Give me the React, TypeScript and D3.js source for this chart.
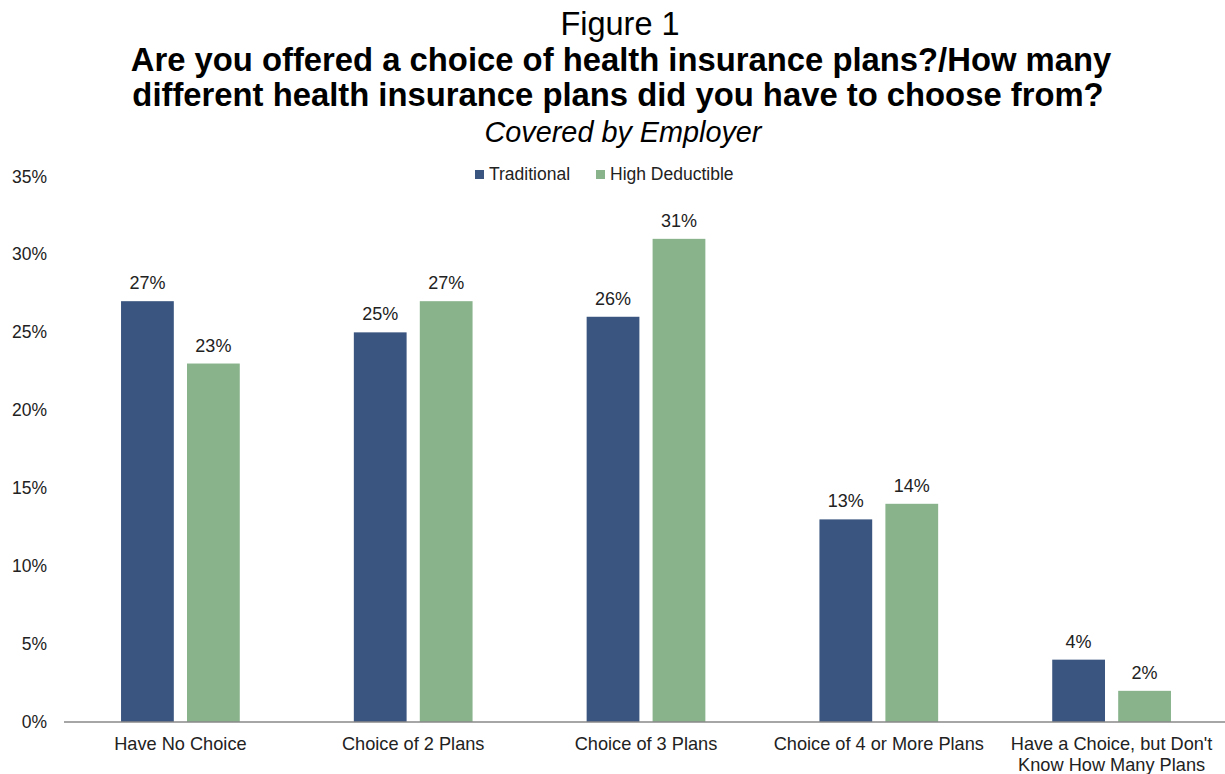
import React from "react";
import * as d3 from "d3";

const categories = [
  ["Have No Choice"],
  ["Choice of 2 Plans"],
  ["Choice of 3 Plans"],
  ["Choice of 4 or More Plans"],
  ["Have a Choice, but Don't", "Know How Many Plans"],
];
const seriesNames = ["Traditional", "High Deductible"];
const traditional = [27, 25, 26, 13, 4];
const highDeductible = [23, 27, 31, 14, 2];
const yTicks = [0, 5, 10, 15, 20, 25, 30, 35];
const colors = ["#3A557F", "#88B38B"];

const W = 1225;
const H = 774;
const FONT = "'Liberation Sans', Arial, sans-serif";

export default function App() {
  const x = d3
    .scaleBand<number>()
    .domain(categories.map((_, i) => i))
    .range([64, 1228])
    .paddingInner(0.49)
    .paddingOuter(0.245);
  const xi = d3
    .scaleBand<number>()
    .domain([0, 1])
    .range([0, x.bandwidth()])
    .paddingInner(0.2);
  const y = d3.scaleLinear().domain([0, 35]).range([722, 176.5]);
  const series = [traditional, highDeductible];

  return (
    <svg
      width={W}
      height={H}
      style={{ position: "absolute", left: 0, top: 0, background: "#fff" }}
      fontFamily={FONT}
    >
      <text x={620} y={35} textAnchor="middle" fontSize={32.5} fill="#000">
        Figure 1
      </text>
      <text x={621} y={71} textAnchor="middle" fontSize={32.8} fontWeight="bold" fill="#000">
        Are you offered a choice of health insurance plans?/How many
      </text>
      <text x={618} y={106} textAnchor="middle" fontSize={32.8} fontWeight="bold" fill="#000">
        different health insurance plans did you have to choose from?
      </text>
      <text x={623} y={142} textAnchor="middle" fontSize={28.8} fontStyle="italic" fill="#000">
        Covered by Employer
      </text>

      {/* legend */}
      {seriesNames.map((n, i) => {
        const lx = i === 0 ? 475 : 596;
        return (
          <g key={n}>
            <rect x={lx} y={170} width={9} height={9} fill={colors[i]} />
            <text x={lx + 14} y={180} fontSize={17.5} fill="#222">
              {n}
            </text>
          </g>
        );
      })}

      {/* y tick labels */}
      {yTicks.map((t) => (
        <text key={t} x={47} y={y(t) + 6} textAnchor="end" fontSize={17.5} fill="#222">
          {t}%
        </text>
      ))}

      {/* bars */}
      {categories.map((_, ci) =>
        series.map((s, si) => {
          const bx = (x(ci) as number) + (xi(si) as number);
          const v = s[ci];
          return (
            <g key={`${ci}-${si}`}>
              <rect
                x={bx}
                y={y(v)}
                width={xi.bandwidth()}
                height={y(0) - y(v)}
                fill={colors[si]}
              />
              <text
                x={bx + xi.bandwidth() / 2}
                y={y(v) - 12}
                textAnchor="middle"
                fontSize={18}
                fill="#222"
              >
                {v}%
              </text>
            </g>
          );
        })
      )}

      {/* x axis */}
      <line x1={64} x2={1228} y1={722} y2={722} stroke="#898989" strokeWidth={1.5} />
      {categories.map((lines, ci) => (
        <text
          key={ci}
          x={(x(ci) as number) + x.bandwidth() / 2}
          y={750}
          textAnchor="middle"
          fontSize={18.2}
          fill="#222"
        >
          {lines.map((l, li) => (
            <tspan key={li} x={(x(ci) as number) + x.bandwidth() / 2} dy={li === 0 ? 0 : 20.5}>
              {l}
            </tspan>
          ))}
        </text>
      ))}
    </svg>
  );
}
